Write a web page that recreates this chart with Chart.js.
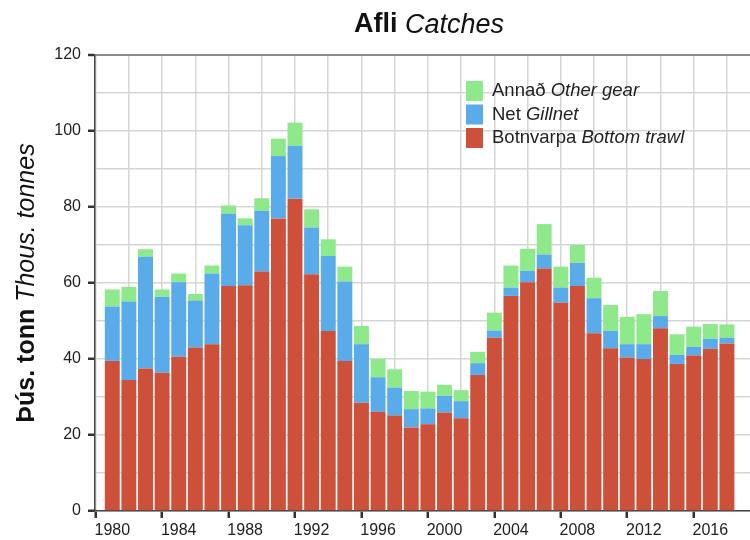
<!DOCTYPE html>
<html><head><meta charset="utf-8">
<script src="https://cdn.jsdelivr.net/npm/chart.js@4.4.1/dist/chart.umd.min.js"></script>
<style>html,body{margin:0;padding:0;background:#fff}#wrap{width:750px;height:540px;position:relative}</style>
</head><body><div id="wrap"><canvas id="c" width="750" height="540"></canvas></div>
<script>
const years = [1980,1981,1982,1983,1984,1985,1986,1987,1988,1989,1990,1991,1992,1993,1994,1995,1996,1997,1998,1999,2000,2001,2002,2003,2004,2005,2006,2007,2008,2009,2010,2011,2012,2013,2014,2015,2016,2017];
const trawl   = [39.5,34.5,37.5,36.4,40.6,43.0,43.9,59.2,59.4,63.0,77.0,82.2,62.3,47.4,39.5,28.5,26.1,25.1,22.0,22.8,25.9,24.4,35.8,45.6,56.6,60.2,63.8,54.8,59.2,46.8,42.8,40.4,40.0,48.1,38.7,40.9,42.7,44.1];
const gillnet = [14.3,20.6,29.4,20.0,19.6,12.4,18.6,19.0,15.8,16.0,16.4,13.9,12.3,19.7,20.9,15.4,9.1,7.4,4.8,4.2,4.4,4.5,3.1,1.9,2.2,3.0,3.7,4.0,6.1,9.2,4.6,3.5,3.9,3.2,2.4,2.3,2.6,1.5];
const other   = [4.5,3.9,2.0,1.9,2.3,1.7,2.1,2.2,1.8,3.3,4.6,6.1,4.8,4.4,3.9,4.8,4.8,4.8,4.8,4.4,2.9,2.9,3.0,4.7,5.8,5.8,8.0,5.5,4.7,5.4,6.8,7.2,7.9,6.6,5.4,5.3,3.9,3.5];
const xGridYears = [1980,1982,1984,1986,1988,1990,1992,1994,1996,1998,2000,2002,2004,2006,2008,2010,2012,2014,2016,2018];
const yTickValues = [0,10,20,30,40,50,60,70,80,90,100,110,120];

const FONT = "'Liberation Sans', Arial, Helvetica, sans-serif";
const RED = '#cd503a', BLUE = '#5aabea', GREEN = '#8ee98a';

function pts(arr){ return arr.map((v,i)=>({x:years[i], y:v})); }

function drawMixed(ctx, parts, cx, cy){
  let total = 0;
  parts.forEach(p=>{ ctx.font = p.font; p.w = ctx.measureText(p.text).width; total += p.w; });
  let x = cx - total/2;
  ctx.textBaseline = 'middle'; ctx.textAlign = 'left';
  parts.forEach(p=>{ ctx.font = p.font; ctx.fillText(p.text, x, cy); x += p.w; });
}

const textPlugin = {
  id: 'texts',
  afterDraw(chart){
    const ctx = chart.ctx;
    ctx.save();
    ctx.fillStyle = '#111';
    drawMixed(ctx, [
      {text:'Afli ', font:'bold 27px '+FONT},
      {text:'Catches', font:'italic 27px '+FONT}
    ], 429, 25);
    ctx.save();
    ctx.translate(27, 283);
    ctx.rotate(-Math.PI/2);
    drawMixed(ctx, [
      {text:'Þús. tonn ', font:'bold 25px '+FONT},
      {text:'Thous. tonnes', font:'italic 25px '+FONT}
    ], 0, 0);
    ctx.restore();
    // legend
    const items = [
      {c:GREEN, a:'Annað ', b:'Other gear'},
      {c:BLUE, a:'Net ', b:'Gillnet'},
      {c:RED, a:'Botnvarpa ', b:'Bottom trawl'}
    ];
    items.forEach((it,i)=>{
      const cy = 91 + i*23.5;
      ctx.fillStyle = it.c;
      ctx.fillRect(466, cy-10, 17, 20);
      ctx.fillStyle = '#222';
      ctx.textBaseline = 'middle'; ctx.textAlign = 'left';
      ctx.font = '18.5px '+FONT;
      ctx.fillText(it.a, 492, cy);
      const w = ctx.measureText(it.a).width;
      ctx.font = 'italic 18.5px '+FONT;
      ctx.fillText(it.b, 492+w, cy);
    });
    ctx.restore();
  }
};

new Chart(document.getElementById('c'), {
  type: 'bar',
  data: {
    datasets: [
      {label:'Botnvarpa Bottom trawl', data: pts(trawl), backgroundColor: RED, borderWidth:0},
      {label:'Net Gillnet', data: pts(gillnet), backgroundColor: BLUE, borderWidth:0},
      {label:'Annað Other gear', data: pts(other), backgroundColor: GREEN, borderWidth:0}
    ]
  },
  options: {
    responsive: false,
    animation: false,
    devicePixelRatio: 1,
    layout: {padding: {top:55, left:0, right:0, bottom:0}},
    datasets: {bar: {barPercentage: 0.9, categoryPercentage: 1.0}},
    plugins: {legend: {display:false}, title:{display:false}, tooltip:{enabled:false}},
    scales: {
      x: {
        type: 'linear', min: 1978.96, max: 2018.39, stacked: true, offset: false,
        afterBuildTicks: s => { s.ticks = xGridYears.map(v=>({value:v})); },
        afterFit: s => { s.height = 29; },
        ticks: {autoSkip:false, maxRotation:0, minRotation:0, padding:3, color:'#222',
          font:{family:FONT, size:16},
          callback: v => (v % 4 === 0 && v <= 2016) ? String(v) : ''},
        grid: {color:'#d6d6d6', lineWidth:1.5, tickLength:7, tickWidth:2.5,
          tickColor: c => (c.tick && c.tick.value % 4 === 0 && c.tick.value <= 2016) ? '#333' : 'rgba(0,0,0,0)'},
        border: {color:'#444', width:1.5}
      },
      y: {
        min: 0, max: 120, stacked: true,
        afterBuildTicks: s => { s.ticks = yTickValues.map(v=>({value:v})); },
        afterFit: s => { s.width = 95; },
        ticks: {padding:7, color:'#222', font:{family:FONT, size:16},
          callback: v => (v % 20 === 0) ? String(v) : ''},
        grid: {color: c => (c.tick && c.tick.value === 120) ? '#8a8a8a' : '#d6d6d6',
          lineWidth: c => (c.tick && c.tick.value === 120) ? 2 : 1.5,
          tickLength:7, tickWidth:2.5,
          tickColor: c => (c.tick && c.tick.value % 20 === 0) ? '#333' : 'rgba(0,0,0,0)'},
        border: {color:'#444', width:1.5}
      }
    }
  },
  plugins: [textPlugin]
});
</script>
</body></html>
